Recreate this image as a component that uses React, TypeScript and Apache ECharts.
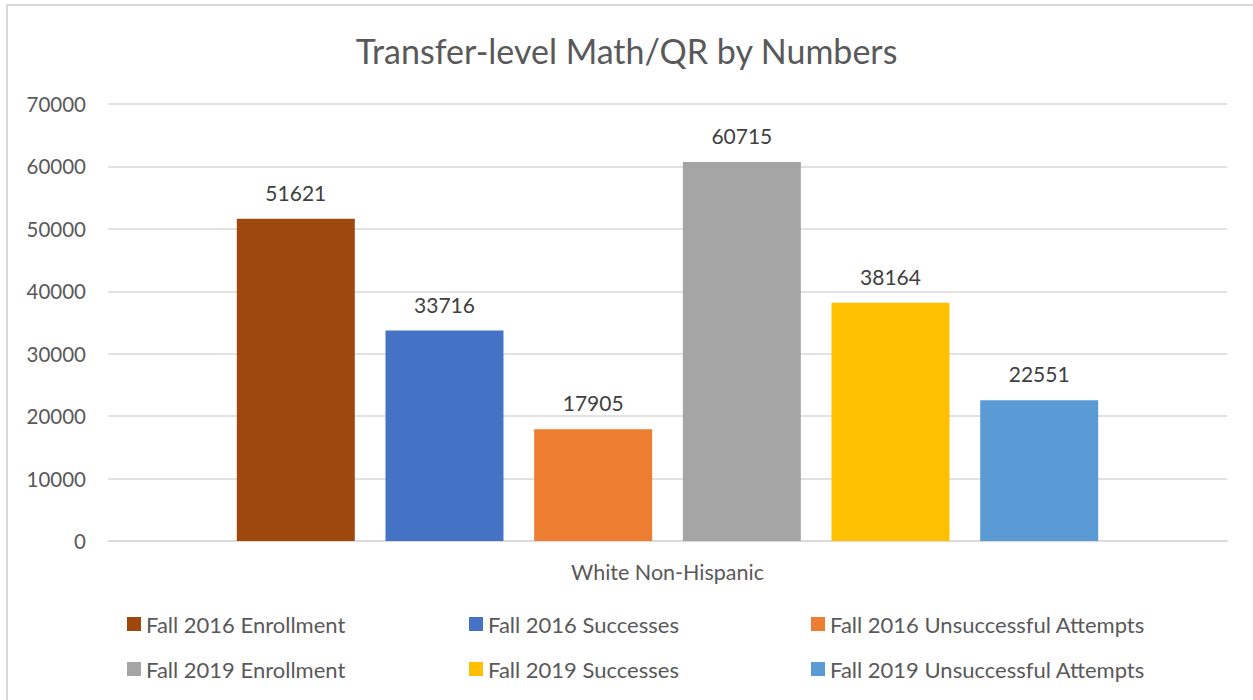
import React, { useEffect, useRef } from "react";
import * as echarts from "echarts";

const categories = ["White Non-Hispanic"];
const seriesNames = [
  "Fall 2016 Enrollment",
  "Fall 2016 Successes",
  "Fall 2016 Unsuccessful Attempts",
  "Fall 2019 Enrollment",
  "Fall 2019 Successes",
  "Fall 2019 Unsuccessful Attempts",
];
const seriesValues = [[51621], [33716], [17905], [60715], [38164], [22551]];
const seriesColors = ["#9E480E", "#4472C4", "#ED7D31", "#A5A5A5", "#FFC000", "#5B9BD5"];
const yTicks = { min: 0, max: 70000, interval: 10000 };

const FONT = "Lato, 'Open Sans', sans-serif";

export default function App() {
  const ref = useRef<HTMLDivElement>(null);
  useEffect(() => {
    document.body.style.margin = "0";
    const chart = echarts.init(ref.current!, null, { renderer: "svg" });
    const legendPos = [
      [127, 613],
      [469, 613],
      [811, 613],
      [127, 658],
      [469, 658],
      [811, 658],
    ];
    chart.setOption({
      animation: false,
      backgroundColor: "#ffffff",
      textStyle: { fontFamily: FONT },
      title: {
        text: "Transfer-level Math/QR by Numbers",
        left: "center",
        top: 28,
        textStyle: { fontFamily: FONT, fontSize: 34, fontWeight: "normal", color: "#595959" },
      },
      graphic: [
        {
          type: "rect",
          shape: { x: 7, y: 5, width: 1300, height: 750 },
          style: { fill: "none", stroke: "#D9D9D9", lineWidth: 2 },
          silent: true,
        },
      ],
      legend: seriesNames.map((n, i) => ({
        data: [n],
        left: legendPos[i][0],
        top: legendPos[i][1],
        padding: 0,
        itemWidth: 14,
        itemHeight: 14,
        itemGap: 5,
        icon: "rect",
        selectedMode: false,
        textStyle: { fontFamily: FONT, fontSize: 22, color: "#595959" },
      })),
      grid: { left: 108, right: 26, top: 104, bottom: 159, containLabel: false },
      xAxis: {
        type: "category",
        data: categories,
        axisLine: { lineStyle: { color: "#D9D9D9", width: 1.5 } },
        axisTick: { show: false },
        axisLabel: { fontFamily: FONT, fontSize: 21.5, color: "#595959", margin: 20 },
      },
      yAxis: {
        type: "value",
        min: yTicks.min,
        max: yTicks.max,
        interval: yTicks.interval,
        axisLine: { show: false },
        axisTick: { show: false },
        splitLine: { lineStyle: { color: "#D9D9D9", width: 1.5 } },
        axisLabel: {
          fontFamily: FONT,
          fontSize: 20.5,
          color: "#595959",
          margin: 22,
          formatter: (v: number) => String(v),
        },
      },
      series: seriesNames.map((n, i) => ({
        name: n,
        type: "bar",
        data: seriesValues[i],
        barWidth: 118,
        barGap: "26%",
        itemStyle: { color: seriesColors[i] },
        label: {
          show: true,
          position: "top",
          distance: 16,
          fontFamily: FONT,
          fontSize: 21,
          color: "#404040",
        },
      })),
    });
    return () => chart.dispose();
  }, []);
  return <div ref={ref} style={{ width: 1253, height: 700 }} />;
}
